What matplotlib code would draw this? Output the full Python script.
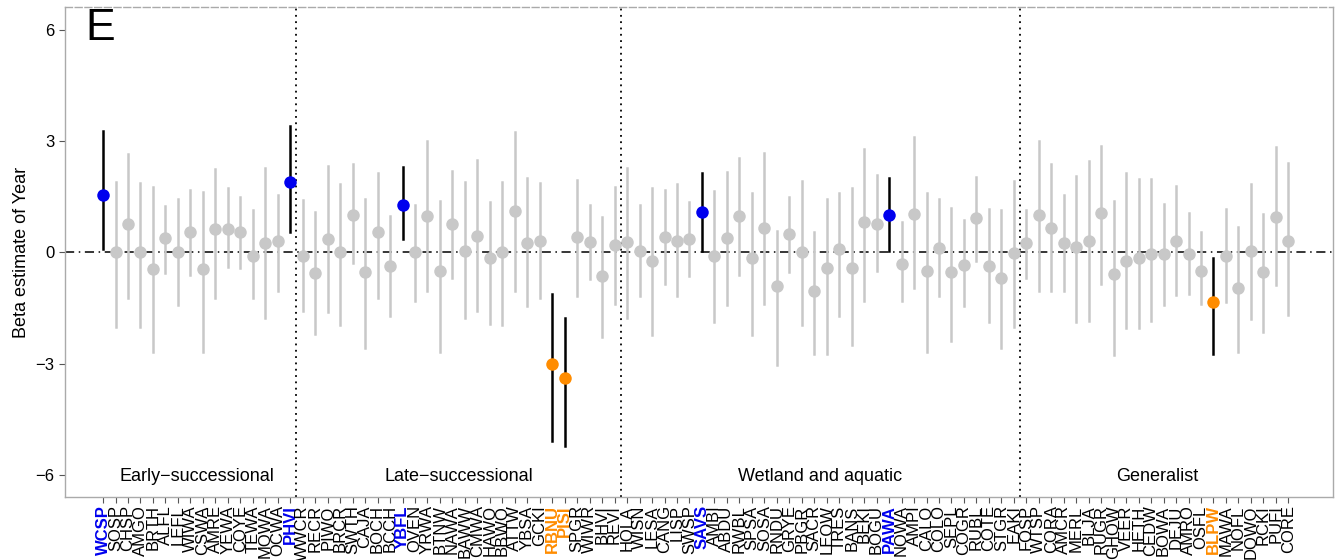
import numpy as np
import matplotlib.pyplot as plt

plt.rcParams['font.family'] = ['Liberation Sans', 'DejaVu Sans']

early = ["WCSP", "SOSP", "CHSP", "AMGO", "BRTH", "ALFL", "LEFL", "WIWA", "CSWA", "AMRE",
         "YEWA", "COYE", "TEWA", "MOWA", "OCWA", "PHVI"]
late = ["WWCR", "RECR", "PIWO", "BRCR", "SWTH", "CAJA", "BOCH", "BCCH", "YBFL", "OVEN",
        "YRWA", "BTNW", "NAWA", "BAWW", "CMWA", "HAWO", "BBWO", "ATTW", "YBSA", "GCKI",
        "RBNU", "PISI", "SPGR", "WIWR", "BHVI", "REVI"]
wetland = ["HOLA", "WISN", "LESA", "CANG", "LISP", "SWSP", "SAVS", "AMBI", "ABDU", "RWBL",
           "SPSA", "SOSA", "RNDU", "GRYE", "PBGR", "SACR", "LEOW", "TRES", "BANS", "BEKI",
           "BOGU", "PAWA", "NOWA", "AMPI", "CALO", "COLO", "SEPL", "COGR", "RUBL", "COTE",
           "STGR", "EAKI"]
general = ["FOSP", "WTSP", "CORA", "AMCR", "MERL", "BLJA", "RUGR", "GHOW", "VEER", "HETH",
           "CEDW", "BOWA", "DEJU", "AMRO", "OSFL", "BLPW", "MAWA", "NOFL", "DOWO", "RCKI",
           "PUFI", "CORE"]
groups = ["Early\u2212successional", "Late\u2212successional", "Wetland and aquatic", "Generalist"]

# beta estimates and 95% limits
est = [1.54, 0.0, 0.76, 0.0, -0.46, 0.38, 0.0, 0.54, -0.46, 0.62,
       0.62, 0.54, -0.1, 0.24, 0.32, 1.89,
       -0.1, -0.57, 0.35, 0.0, 1.0, -0.54, 0.54, -0.38, 1.27, 0.0,
       0.97, -0.51, 0.76, 0.05, 0.43, -0.14, 0.0, 1.11, 0.24, 0.3,
       -3.0, -3.38, 0.41, 0.27, -0.65, 0.19,
       0.27, 0.03, -0.24, 0.41, 0.32, 0.35, 1.08, -0.1, 0.38, 0.97,
       -0.16, 0.65, -0.92, 0.49, 0.0, -1.03, -0.43, 0.08, -0.43, 0.81,
       0.76, 1.0, -0.32, 1.03, -0.51, 0.11, -0.54, -0.35, 0.92, -0.38,
       -0.68, -0.03,
       0.24, 1.0, 0.65, 0.24, 0.14, 0.3, 1.05, -0.59, -0.24, -0.16,
       -0.05, -0.05, 0.32, -0.05, -0.49, -1.35, -0.1, -0.95, 0.05, -0.54,
       0.95, 0.32]
upper = [3.27, 1.9, 2.65, 1.86, 1.76, 1.24, 1.43, 1.68, 1.62, 2.24,
         1.73, 1.49, 1.14, 2.27, 1.54, 3.4,
         1.4, 1.08, 2.32, 1.84, 2.38, 1.43, 2.13, 0.97, 2.3, 1.27,
         3.0, 1.38, 2.19, 1.89, 2.49, 1.35, 1.89, 3.24, 2.0, 1.86,
         -1.11, -1.76, 1.95, 1.27, 0.95, 1.76,
         2.27, 1.27, 1.73, 1.68, 1.84, 1.35, 2.13, 1.65, 2.16, 2.54,
         1.59, 2.68, 0.57, 1.49, 1.92, 0.54, 1.43, 1.59, 1.73, 2.78,
         2.08, 2.0, 0.81, 3.11, 1.59, 1.43, 1.19, 0.86, 2.03, 1.16,
         1.14, 1.92,
         1.14, 3.0, 2.38, 1.54, 2.05, 2.46, 2.86, 1.38, 2.13, 1.97,
         1.97, 1.3, 1.78, 1.05, 0.54, -0.16, 1.16, 0.68, 1.84, 1.03,
         2.84, 2.41]
lower = [0.08, -2.0, -1.24, -2.0, -2.7, -0.57, -1.43, -0.62, -2.7, -1.24,
         -0.4, -0.43, -1.24, -1.78, -1.03, 0.54,
         -1.57, -2.19, -1.62, -1.97, -0.3, -2.57, -1.22, -1.73, 0.35, -1.3,
         -1.03, -2.7, -0.68, -1.78, -1.59, -1.92, -1.97, -1.05, -1.46, -1.24,
         -5.08, -5.22, -1.19, -0.73, -2.27, -1.4,
         -1.78, -1.19, -2.24, -0.86, -1.19, -0.65, 0.05, -1.89, -1.43, -0.62,
         -2.22, -1.4, -3.03, -0.54, -1.97, -2.73, -2.73, -1.73, -2.51, -1.3,
         -0.51, 0.05, -1.32, -0.95, -2.7, -1.19, -2.38, -1.46, -0.24, -1.89,
         -2.59, -2.0,
         -0.7, -1.03, -1.03, -1.05, -1.89, -1.84, -0.84, -2.78, -2.03, -2.05,
         -1.86, -1.43, -1.16, -1.11, -1.4, -2.73, -1.35, -2.7, -1.81, -2.16,
         -0.89, -1.7]

increase = ["WCSP", "PHVI", "YBFL", "SAVS", "PAWA"]
decrease = ["RBNU", "PISI", "BLPW"]

species = early + late + wetland + general
est = np.array(est)
upper = np.array(upper)
lower = np.array(lower)
x = np.arange(len(species))

blue = "#0000ee"
orange = "#ff8c00"
grey = "#c8c8c8"

fig = plt.figure(figsize=(13.35, 5.6), dpi=100)
ax = fig.add_axes([0.0487, 0.1125, 0.95, 0.875])

for i, sp in enumerate(species):
    if sp in increase:
        lc, pc = "black", blue
    elif sp in decrease:
        lc, pc = "black", orange
    else:
        lc, pc = grey, grey
    ax.plot([x[i], x[i]], [lower[i], upper[i]], color=lc, lw=1.8, zorder=2 if lc == grey else 3)
    ax.plot(x[i], est[i], "o", color=pc, ms=9, mec="none", zorder=4 if lc != grey else 2.5)

ax.axhline(0, color="black", lw=1.1, ls=(0, (6, 3, 1, 3)), zorder=1)

sizes = [len(early), len(late), len(wetland), len(general)]
edges = np.cumsum(sizes)
start = 0
for k, n in enumerate(sizes):
    if k < 3:
        ax.axvline(edges[k] - 0.5, color="black", lw=1.3, ls=(0, (1, 2.5)))
    ax.text(start + (n - 1) / 2, -6.06, groups[k], ha="center", va="center", fontsize=13)
    start += n

ax.text(-1.4, 6.6, "E", fontsize=32, ha="left", va="top")

ax.set_xlim(-3.05, len(species) + 2.6)
ax.set_ylim(-6.6, 6.62)
ax.set_yticks([-6, -3, 0, 3, 6])
ax.set_yticklabels(["\u22126", "\u22123", "0", "3", "6"])
ax.set_ylabel("Beta estimate of Year", fontsize=13)

ax.set_xticks(x)
ax.set_xticklabels(species, rotation=90, fontsize=12, va="top")

ax.tick_params(axis="both", colors="#555555", length=4, width=0.8, labelcolor="black")
ax.tick_params(axis="x", pad=2)
ax.tick_params(axis="y", labelsize=12)
for lab in ax.get_xticklabels():
    t = lab.get_text()
    if t in increase:
        lab.set_color(blue)
        lab.set_fontweight("bold")
    elif t in decrease:
        lab.set_color(orange)
        lab.set_fontweight("bold")
for s in ax.spines.values():
    s.set_color("#aaaaaa")
    s.set_linewidth(1.0)
ax.spines["top"].set_linestyle((0, (5, 2)))

fig.savefig("out.png", dpi=100)
